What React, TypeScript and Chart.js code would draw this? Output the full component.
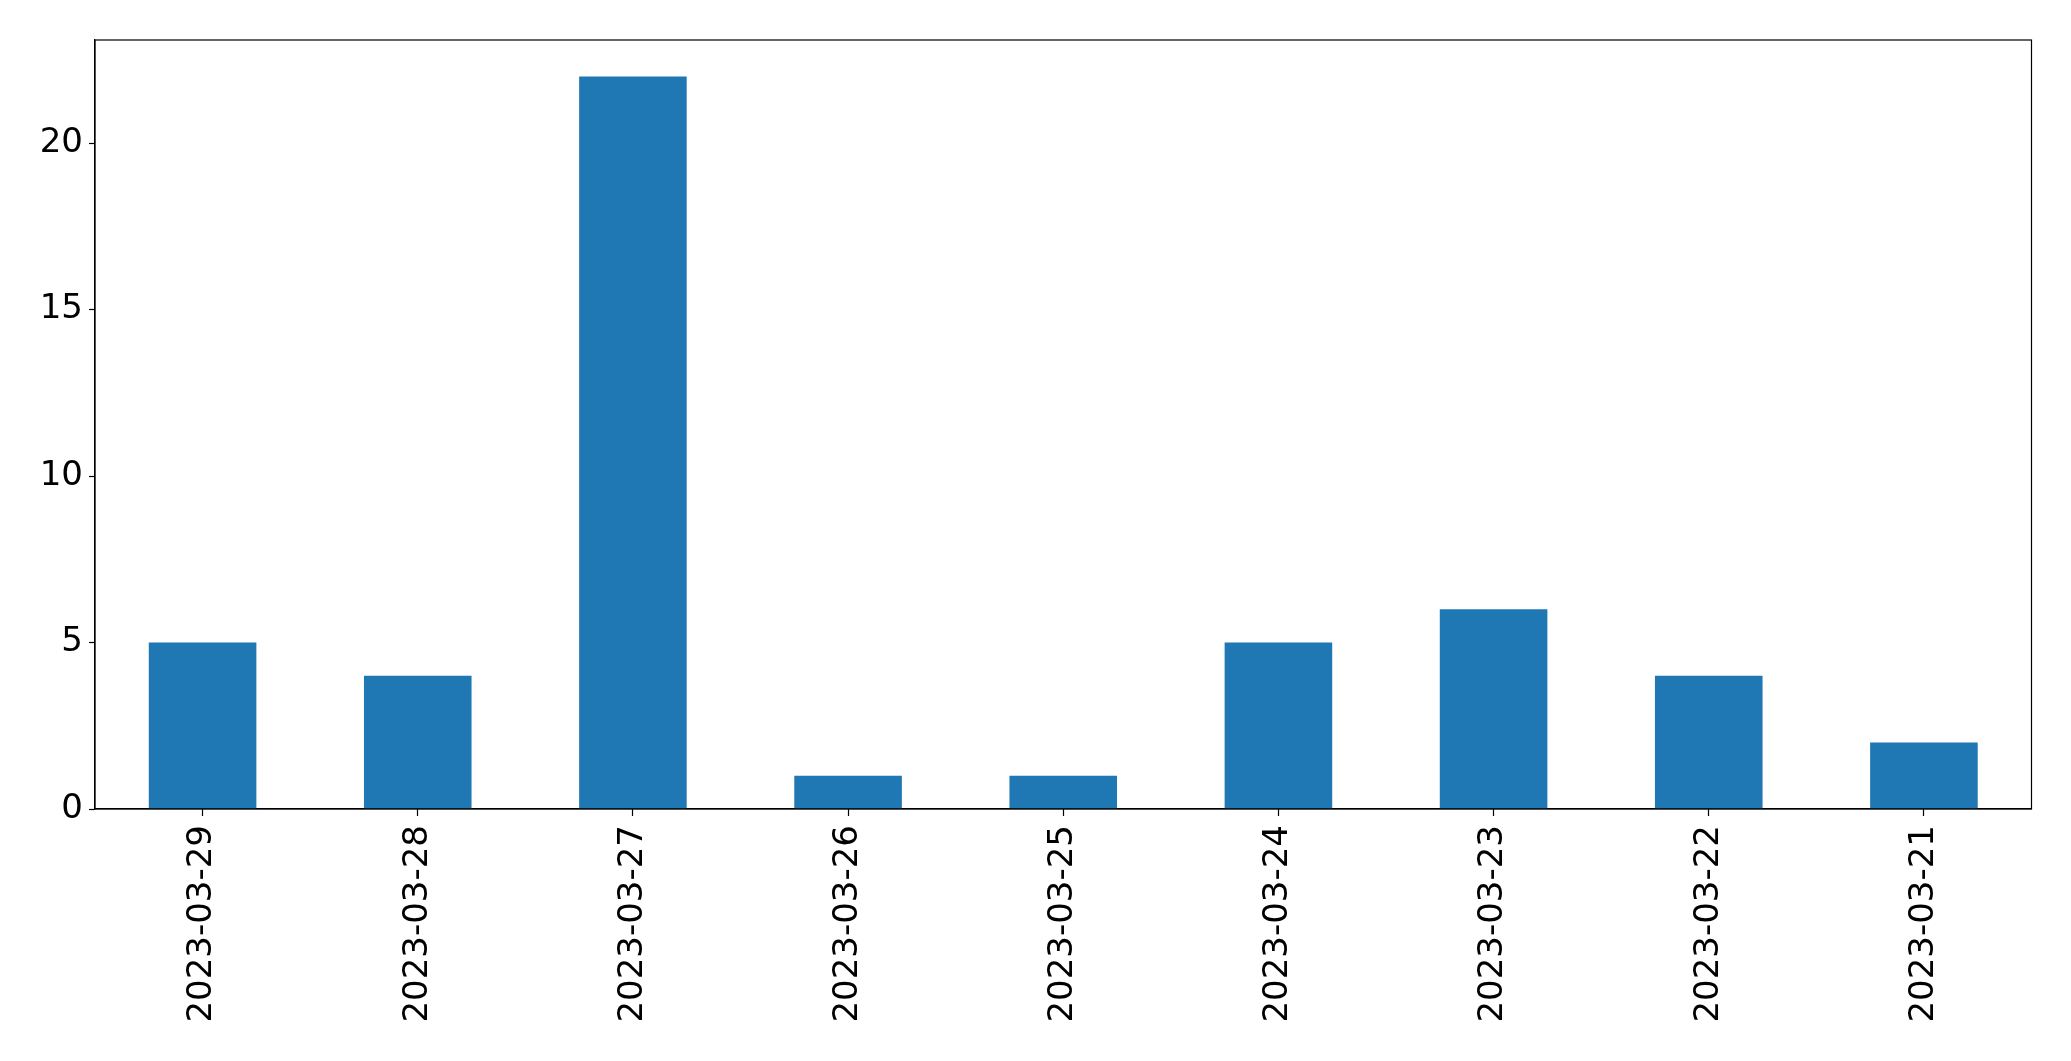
import React, { useEffect, useRef } from "react";
import { Chart, registerables } from "chart.js";

Chart.register(...registerables);

const categories = [
  "2023-03-29",
  "2023-03-28",
  "2023-03-27",
  "2023-03-26",
  "2023-03-25",
  "2023-03-24",
  "2023-03-23",
  "2023-03-22",
  "2023-03-21",
];
const counts = [5, 4, 22, 1, 1, 5, 6, 4, 2];
const yTicks = [0, 5, 10, 15, 20];
const yMax = 23.1;

const W = 2071;
const H = 1061;
const FONT = "'DejaVu Sans', sans-serif";

export default function App() {
  const ref = useRef<HTMLCanvasElement | null>(null);

  useEffect(() => {
    if (!ref.current) return;
    const framePlugin = {
      id: "frame",
      afterDatasetsDraw(chart: any) {
        const { ctx, chartArea } = chart;
        ctx.save();
        ctx.strokeStyle = "#000";
        ctx.lineWidth = 1.2;
        ctx.strokeRect(
          chartArea.left,
          chartArea.top,
          chartArea.right - chartArea.left,
          chartArea.bottom - chartArea.top
        );
        ctx.restore();
      },
    };
    const chart = new Chart(ref.current, {
      type: "bar",
      data: {
        labels: categories,
        datasets: [
          {
            data: counts,
            backgroundColor: "#1f77b4",
            borderWidth: 0,
            categoryPercentage: 1,
            barPercentage: 0.5,
          },
        ],
      },
      options: {
        responsive: false,
        animation: false,
        devicePixelRatio: 1,
        layout: { padding: { left: 0, top: 40, right: 39.5, bottom: 0 } },
        plugins: {
          legend: { display: false },
          tooltip: { enabled: false },
        },
        scales: {
          x: {
            type: "category",
            offset: true,
            grid: {
              display: true,
              offset: false,
              drawOnChartArea: false,
              drawTicks: true,
              tickLength: 7,
              tickWidth: 1.2,
              tickColor: "#000",
            },
            border: { display: true, color: "#000", width: 1.2 },
            ticks: {
              color: "#000",
              font: { family: FONT, size: 34 },
              minRotation: 90,
              maxRotation: 90,
              autoSkip: false,
              padding: 9,
            },
            afterFit: (scale: any) => {
              scale.height = H - 809;
            },
          },
          y: {
            type: "linear",
            min: 0,
            max: yMax,
            grid: {
              display: true,
              drawOnChartArea: false,
              drawTicks: true,
              tickLength: 6,
              tickWidth: 1.2,
              tickColor: "#000",
            },
            border: { display: true, color: "#000", width: 1.2 },
            ticks: {
              color: "#000",
              font: { family: FONT, size: 34 },
              padding: 6,
            },
            afterBuildTicks: (scale: any) => {
              scale.ticks = yTicks.map((v) => ({ value: v }));
            },
            afterFit: (scale: any) => {
              scale.width = 95;
            },
          },
        },
      },
      plugins: [framePlugin],
    });
    return () => chart.destroy();
  }, []);

  return (
    <div style={{ position: "absolute", left: 0, top: 0, width: W, height: H, background: "#fff" }}>
      <canvas ref={ref} width={W} height={H} style={{ display: "block" }} />
    </div>
  );
}
